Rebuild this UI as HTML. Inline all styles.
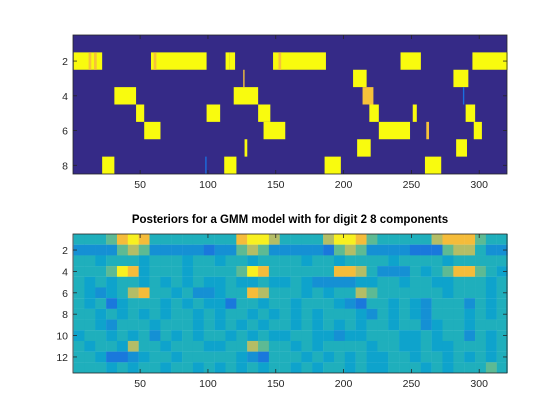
<!DOCTYPE html>
<html><head><meta charset="utf-8"><style>
body{margin:0;background:#fff;}
svg{display:block;font-family:"Liberation Sans",sans-serif;}
</style></head><body>
<svg id="fig" width="560" height="420" viewBox="0 0 560 420">
<rect width="560" height="420" fill="#fff"/>
<g id="top"></g>
<g id="bot"></g>
<text x="290" y="223" text-anchor="middle" font-size="11.5" font-weight="bold" fill="#000">Posteriors for a GMM model with for digit 2 8 components</text>
</svg>
<script>
// Top chart: hard assignments as segments (row, start col, end col, level 0..1)
const segRows   = [2,2,2,2,2,2,2,2,2,2,2, 3,3,3, 4,4,4,4, 5,5,5,5,5,5, 6,6,6,6,6, 7,7,7, 8,8,8,8,8];
const segStarts = [1,12,16,58,60,113,116,148,152,242,295, 207,281,126, 31,119,214,288, 47,99,137,219,251,290, 53,141,226,296,261, 127,210,283, 22,112,186,260,98];
const segEnds   = [21,13,17,98,61,115,119,186,153,256,320, 216,291,126, 46,136,221,288, 52,108,145,225,253,296, 64,156,248,301,262, 128,219,290, 30,120,197,271,98];
const segLevels = [1,0.85,0.85,1,0.85,1,1,1,0.85,1,1, 1,1,0.8, 1,1,0.85,0.2, 1,1,1,1,1,1, 1,1,1,1,0.8, 1,1,1, 1,1,1,1,0.3];
// Bottom chart: posterior levels (0..9), 40 blocks of 8 columns per component
const post = [
"5556898555555558997555579986555557888655",
"3333676333332336763333326763333222677533",
"5545554555455455455554554555545555455555",
"5556984555455556985555558875333545688654",
"5454554545454454454454333344554554455545",
"5434578554533455875554545576555555455545",
"5452455545454425545545554325545435553545",
"5545454545545455454545455543545435554545",
"5543555455545454545545454545545534554555",
"4554545354545545454455443445554454553545",
"5455475545554455765545455554554454455545",
"5542234554555554325554545454455455454545",
"5554545545545454545545455454455545455565"];
const xTicks=[50,100,150,200,250,300];
const yTicksTop=[2,4,6,8];
const yTicksBot=[2,4,6,8,10,12];

const NS="http://www.w3.org/2000/svg";
function mk(tag,attrs,parent){const e=document.createElementNS(NS,tag);for(const k in attrs)e.setAttribute(k,attrs[k]);parent.appendChild(e);return e;}
const X0=73,X1=507;
const xs=c=>X0+(c-0.5)/320*(X1-X0);
function topColor(l){if(l>=0.95)return"#f9fb0e";if(l>=0.8)return"#f6c23a";if(l>=0.5)return"#37b89c";return"#1a6fe0";}
const pal=["#3b3fc0","#1f5fe0","#1a78dc","#1590d4","#0ea3cc","#1fafbc","#5dba94","#b4bd66","#f5bc3a","#f8f020"];

function axes(g,T,B,nrows,yt,name){
  const ys=r=>T+(r-0.5)/nrows*(B-T);
  xTicks.forEach(v=>{
    const x=xs(v);
    const t1=mk("line",{x1:x,x2:x,y1:B,y2:B-4,stroke:"#262626","stroke-width":0.8},g);
    
    
    const t2=mk("line",{x1:x,x2:x,y1:T,y2:T+4,stroke:"#262626","stroke-width":0.8},g);
    
    
    const lb=mk("text",{x:x,y:B+14,"text-anchor":"middle","font-size":"10.5",fill:"#262626"},g);
    lb.textContent=v;
    
    
  });
  yt.forEach(v=>{
    const y=ys(v);
    const t1=mk("line",{x1:X0,x2:X0+4,y1:y,y2:y,stroke:"#262626","stroke-width":0.8},g);
    
    
    const t2=mk("line",{x1:X1,x2:X1-4,y1:y,y2:y,stroke:"#262626","stroke-width":0.8},g);
    
    
    const lb=mk("text",{x:X0-5,y:y+4,"text-anchor":"end","font-size":"10.5",fill:"#262626"},g);
    lb.textContent=v;
    
    
  });
  const fr=mk("rect",{x:X0,y:T,width:X1-X0,height:B-T,fill:"none",stroke:"#262626","stroke-width":0.8},g);
  
  
}

(function(){
  const g=document.getElementById("top");
  const T=35,B=174,n=8;
  const rh=(B-T)/n;
  const bg=mk("rect",{x:X0,y:T,width:X1-X0,height:B-T,fill:"#352a87"},g);
  
  
  segRows.forEach((r,i)=>{
    const x=xs(segStarts[i]), w=xs(segEnds[i]+1)-xs(segStarts[i]);
    const c=mk("rect",{x:x,y:T+(r-1)*rh,width:Math.max(w,0.8),height:rh,fill:topColor(segLevels[i])},g);
    
    
  });
  axes(g,T,B,n,yTicksTop,"top");
})();

(function(){
  const g=document.getElementById("bot");
  const T=234,B=373,n=13;
  const rh=(B-T)/n;
  post.forEach((row,r)=>{
    for(let k=0;k<row.length;k++){
      const v=+row[k];
      const c0=k*8+1;
      const x=xs(c0), x2=xs(c0+8);
      const c=mk("rect",{x:x-0.1,y:T+r*rh,width:x2-x+0.2,height:rh+0.1,fill:pal[v]},g);
      
      
    }
  });
  axes(g,T,B,n,yTicksBot,"bottom");
})();
</script>
</body></html>
